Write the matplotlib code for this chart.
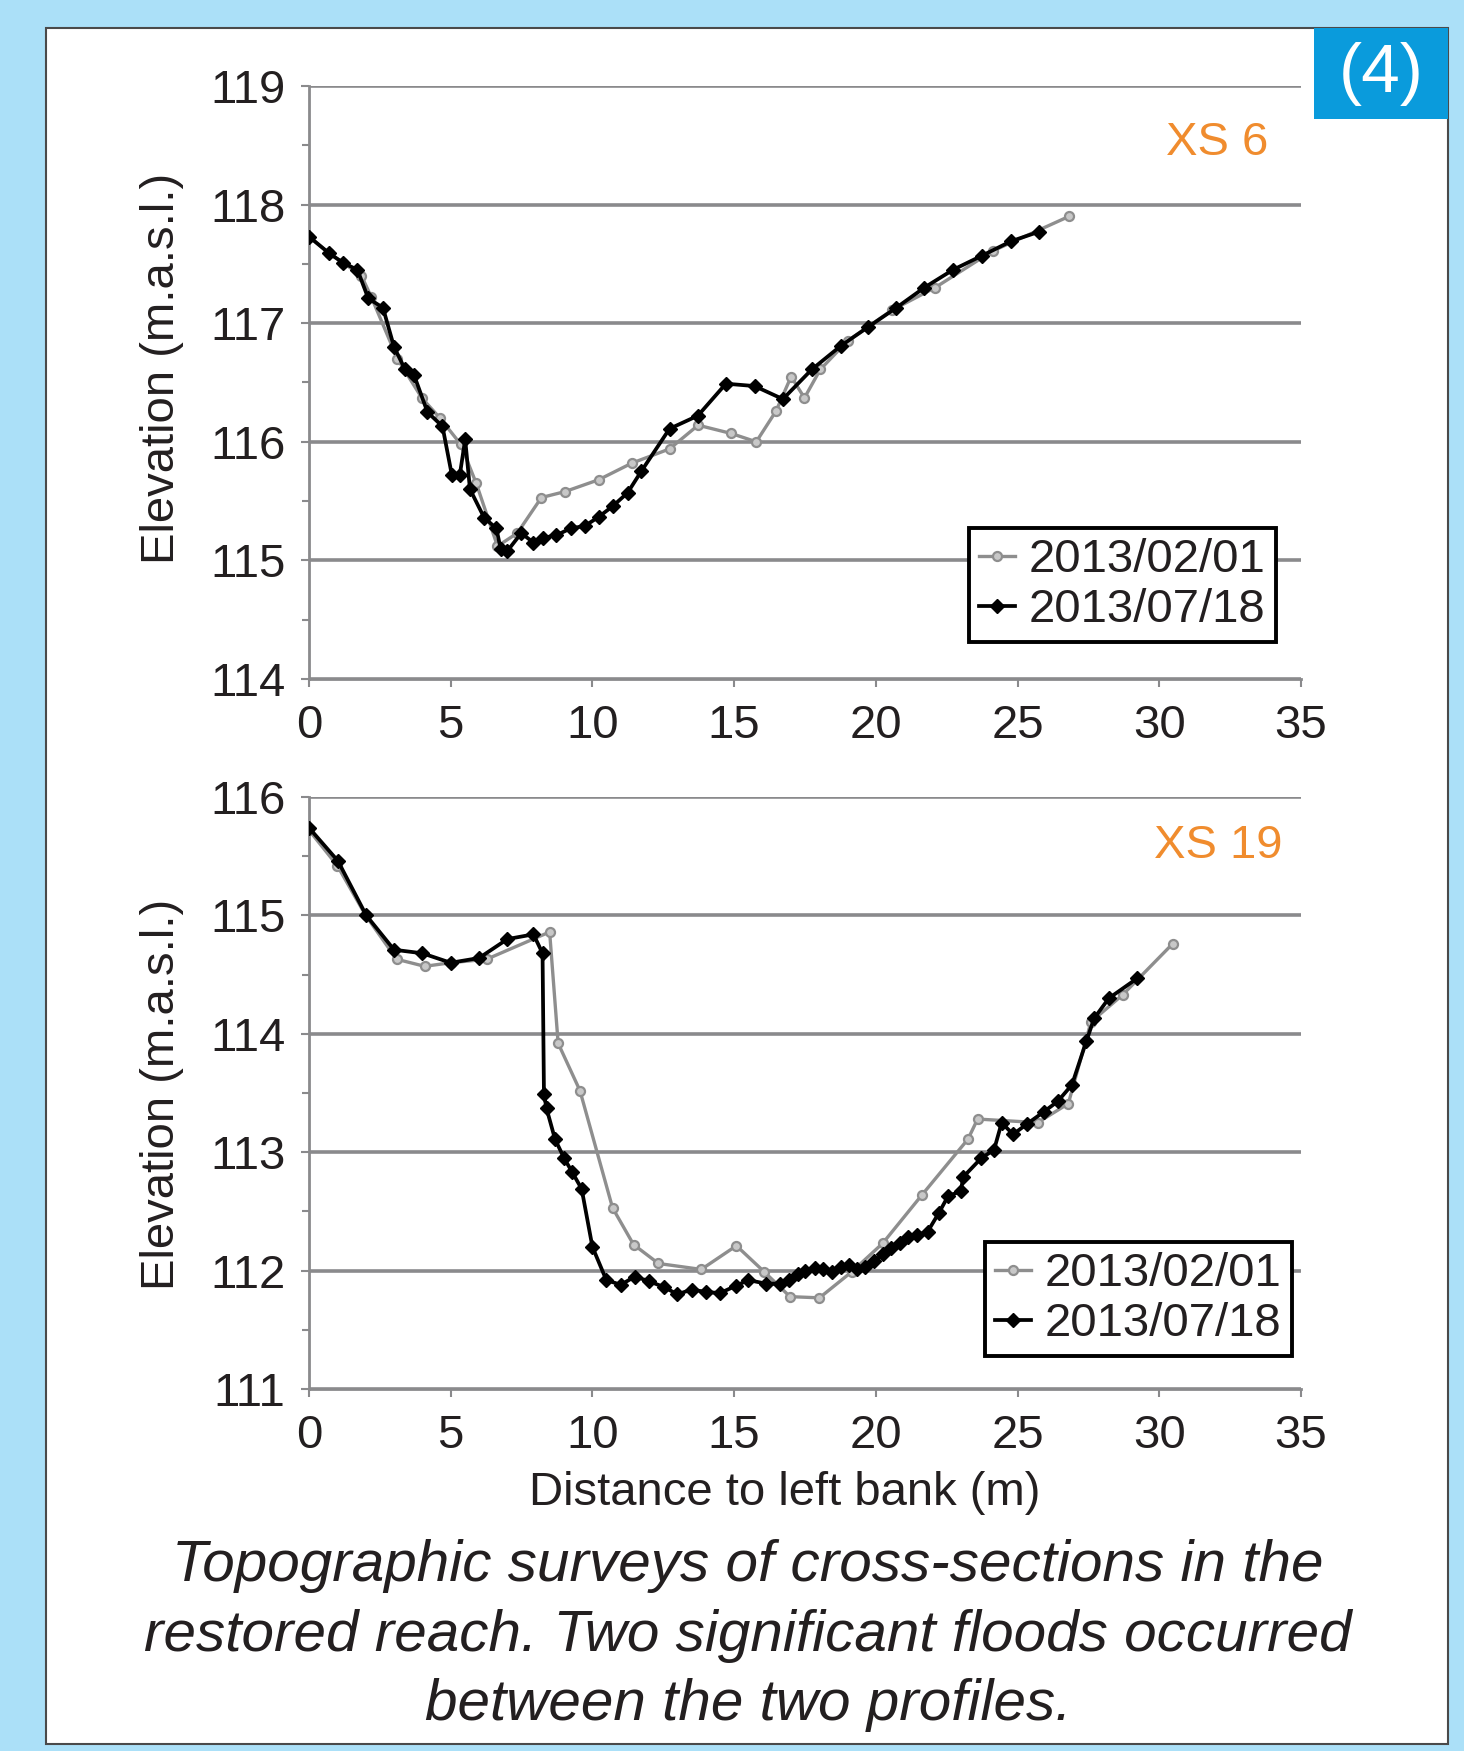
import matplotlib
matplotlib.use("Agg")
import matplotlib.pyplot as plt
import matplotlib.patches as mpatches
from matplotlib.ticker import MultipleLocator

# ── Data ──────────────────────────────────────────────────────────────────────

# XS 6
xs6_feb_x = [0, 0.7, 1.2, 1.85, 2.2, 3.12, 3.98, 4.62, 5.35, 5.9, 6.65, 7.35,
             8.2, 9.03, 10.22, 11.39, 12.72, 13.73, 14.9, 15.78, 16.48, 17.01,
             17.48, 18.04, 19.0, 20.57, 22.09, 24.13, 26.81]
xs6_feb_y = [117.73, 117.59, 117.51, 117.4, 117.22, 116.7, 116.37, 116.2, 115.98,
             115.65, 115.12, 115.23, 115.53, 115.58, 115.68, 115.82, 115.94,
             116.14, 116.07, 116.0, 116.26, 116.55, 116.37, 116.61, 116.85,
             117.11, 117.3, 117.61, 117.9]

xs6_jul_x = [0, 0.71, 1.2, 1.71, 2.09, 2.61, 3.0, 3.39, 3.71, 4.18, 4.71, 5.04,
             5.32, 5.51, 5.68, 6.18, 6.61, 6.76, 7.0, 7.49, 7.92, 8.24, 8.71,
             9.23, 9.73, 10.24, 10.73, 11.24, 11.72, 12.72, 13.72, 14.71, 15.72,
             16.72, 17.74, 18.77, 19.74, 20.72, 21.71, 22.72, 23.75, 24.76, 25.74]
xs6_jul_y = [117.73, 117.59, 117.51, 117.45, 117.21, 117.13, 116.8, 116.61,
             116.56, 116.25, 116.13, 115.72, 115.72, 116.02, 115.6, 115.36,
             115.27, 115.1, 115.08, 115.23, 115.15, 115.19, 115.21, 115.27,
             115.29, 115.37, 115.46, 115.57, 115.75, 116.11, 116.22, 116.49,
             116.47, 116.36, 116.61, 116.81, 116.97, 117.13, 117.3, 117.45,
             117.57, 117.69, 117.77]

# XS 19
xs19_feb_x = [0, 1.0, 2.0, 3.09, 4.08, 5.0, 6.27, 8.49, 8.79, 9.56, 10.71, 11.45,
              12.33, 13.84, 15.08, 16.06, 16.97, 18.01, 19.15, 20.24, 21.63,
              23.25, 23.59, 25.71, 26.79, 27.59, 28.71, 30.47]
xs19_feb_y = [115.72, 115.42, 115.0, 114.63, 114.57, 114.6, 114.63, 114.86,
              113.92, 113.52, 112.53, 112.22, 112.06, 112.01, 112.21, 111.99,
              111.78, 111.77, 111.99, 112.23, 112.64, 113.11, 113.28, 113.25,
              113.41, 114.1, 114.33, 114.76]

xs19_jul_x = [0, 1.02, 2.02, 3.0, 4.0, 5.0, 6.0, 7.0, 7.92, 8.24, 8.29, 8.38,
              8.68, 9.0, 9.29, 9.62, 10.0, 10.49, 11.0, 11.5, 12.0, 12.53, 13.0,
              13.5, 14.0, 14.5, 15.05, 15.5, 16.12, 16.63, 16.94, 17.24, 17.51,
              17.85, 18.14, 18.45, 18.76, 19.06, 19.33, 19.63, 19.94, 20.25,
              20.55, 20.84, 21.15, 21.45, 21.83, 22.23, 22.55, 23.0, 23.08,
              23.72, 24.17, 24.44, 24.84, 25.34, 25.92, 26.42, 26.92, 27.43,
              27.7, 28.22, 29.23]
xs19_jul_y = [115.74, 115.46, 115.0, 114.71, 114.68, 114.6, 114.64, 114.8,
              114.84, 114.68, 113.49, 113.37, 113.11, 112.95, 112.83, 112.69,
              112.2, 111.92, 111.88, 111.95, 111.91, 111.86, 111.8, 111.84,
              111.82, 111.81, 111.87, 111.92, 111.89, 111.89, 111.92, 111.97,
              112.0, 112.02, 112.01, 111.99, 112.03, 112.05, 112.01, 112.03,
              112.08, 112.14, 112.19, 112.23, 112.28, 112.3, 112.33, 112.49,
              112.63, 112.67, 112.79, 112.95, 113.02, 113.25, 113.15, 113.24,
              113.34, 113.43, 113.57, 113.94, 114.13, 114.3, 114.47]

labels = ["2013/02/01", "2013/07/18"]
x_ticks = [0, 5, 10, 15, 20, 25, 30, 35]

# ── Style ─────────────────────────────────────────────────────────────────────

SKY    = "#ABE0F8"
BLUE   = "#0A9BDC"
ORANGE = "#F08C2E"
GRID   = "#8A8A8C"
GREY   = "#8E8E8E"
TEXT   = "#231F20"

plt.rcParams["font.family"] = ["Liberation Sans", "DejaVu Sans"]

W, H = 1464, 1751
fig = plt.figure(figsize=(W / 100, H / 100), dpi=100, facecolor=SKY)


def fx(px):
    return px / W


def fy(py):
    return 1 - py / H


# white panel + "(4)" badge (drawn beneath the axes)
fig.patches.append(mpatches.Rectangle((fx(46), fy(1744)), fx(1448) - fx(46), fy(28) - fy(1744),
                                      transform=fig.transFigure, facecolor="white",
                                      edgecolor="#4A4A4A", linewidth=1.5, zorder=-2))
fig.patches.append(mpatches.Rectangle((fx(1314), fy(119)), fx(1448) - fx(1314), fy(28) - fy(119),
                                      transform=fig.transFigure, facecolor=BLUE,
                                      edgecolor="none", zorder=-1))
fig.text(fx(1381), fy(74), "(4)", color="white", fontsize=50, ha="center", va="center")


def draw_panel(rect, feb_x, feb_y, jul_x, jul_y, ylim, name, name_xy, leg_xy):
    ax = fig.add_axes(rect)
    ax.set_facecolor("none")
    ax.plot(feb_x, feb_y, color=GREY, lw=2.4, marker="o", ms=6.5,
            mfc="#C8C8C8", mec=GREY, mew=1.6, label=labels[0], zorder=3)
    ax.plot(jul_x, jul_y, color="black", lw=2.7, marker="D", ms=7,
            mfc="black", mec="black", label=labels[1], zorder=4)

    ax.set_xlim(0, 35)
    ax.set_ylim(*ylim)
    ax.set_xticks(x_ticks)
    ax.yaxis.set_major_locator(MultipleLocator(1))
    ax.yaxis.set_minor_locator(MultipleLocator(0.5))
    ax.grid(axis="y", which="major", color=GRID, lw=2.6, zorder=1)
    ax.set_axisbelow(True)

    for s in ["top", "right"]:
        ax.spines[s].set_visible(False)
    for s in ["left", "bottom"]:
        ax.spines[s].set_color(GRID)
        ax.spines[s].set_linewidth(2.0)

    ax.tick_params(axis="both", which="major", direction="out", length=6, width=1.5,
                   color=GRID, labelsize=34, labelcolor=TEXT)
    ax.tick_params(axis="y", which="major", pad=11)
    ax.tick_params(axis="x", which="major", pad=12)
    ax.tick_params(axis="y", which="minor", direction="out", length=5, width=1.5, color=GRID)

    ax.text(*name_xy, name, transform=fig.transFigure, color=ORANGE, fontsize=34,
            ha="right", va="center")

    leg = ax.legend(loc="upper left", bbox_to_anchor=leg_xy, bbox_transform=fig.transFigure,
                    fontsize=34, frameon=True, fancybox=False, borderaxespad=0,
                    handlelength=0.75, handletextpad=0.3, labelspacing=0.12,
                    borderpad=0.22)
    leg.get_frame().set_edgecolor("black")
    leg.get_frame().set_linewidth(2.8)
    leg.get_frame().set_alpha(1)
    for t in leg.get_texts():
        t.set_color(TEXT)
    return ax


left = fx(309)
width = fx(1301) - fx(309)

draw_panel([left, fy(679), width, fy(86) - fy(679)],
           xs6_feb_x, xs6_feb_y, xs6_jul_x, xs6_jul_y, (114, 119),
           "XS 6", (fx(1268), fy(143)), (fx(969), fy(528)))

draw_panel([left, fy(1389), width, fy(797) - fy(1389)],
           xs19_feb_x, xs19_feb_y, xs19_jul_x, xs19_jul_y, (111, 116),
           "XS 19", (fx(1282), fy(846)), (fx(985), fy(1242)))

# axis labels
fig.text(fx(162), fy(368), "Elevation (m.a.s.l.)", rotation=90, fontsize=34,
         color=TEXT, ha="center", va="center")
fig.text(fx(162), fy(1094), "Elevation (m.a.s.l.)", rotation=90, fontsize=34,
         color=TEXT, ha="center", va="center")
fig.text(fx(785), fy(1493), "Distance to left bank (m)", fontsize=34,
         color=TEXT, ha="center", va="center")

# caption
caption = ["Topographic surveys of cross-sections in the",
           "restored reach. Two significant floods occurred",
           "between the two profiles."]
for line, py in zip(caption, [1566, 1636, 1705]):
    fig.text(fx(748), fy(py), line, fontsize=42, style="italic",
             color=TEXT, ha="center", va="center")

fig.savefig("out.png", dpi=100, facecolor=SKY)
